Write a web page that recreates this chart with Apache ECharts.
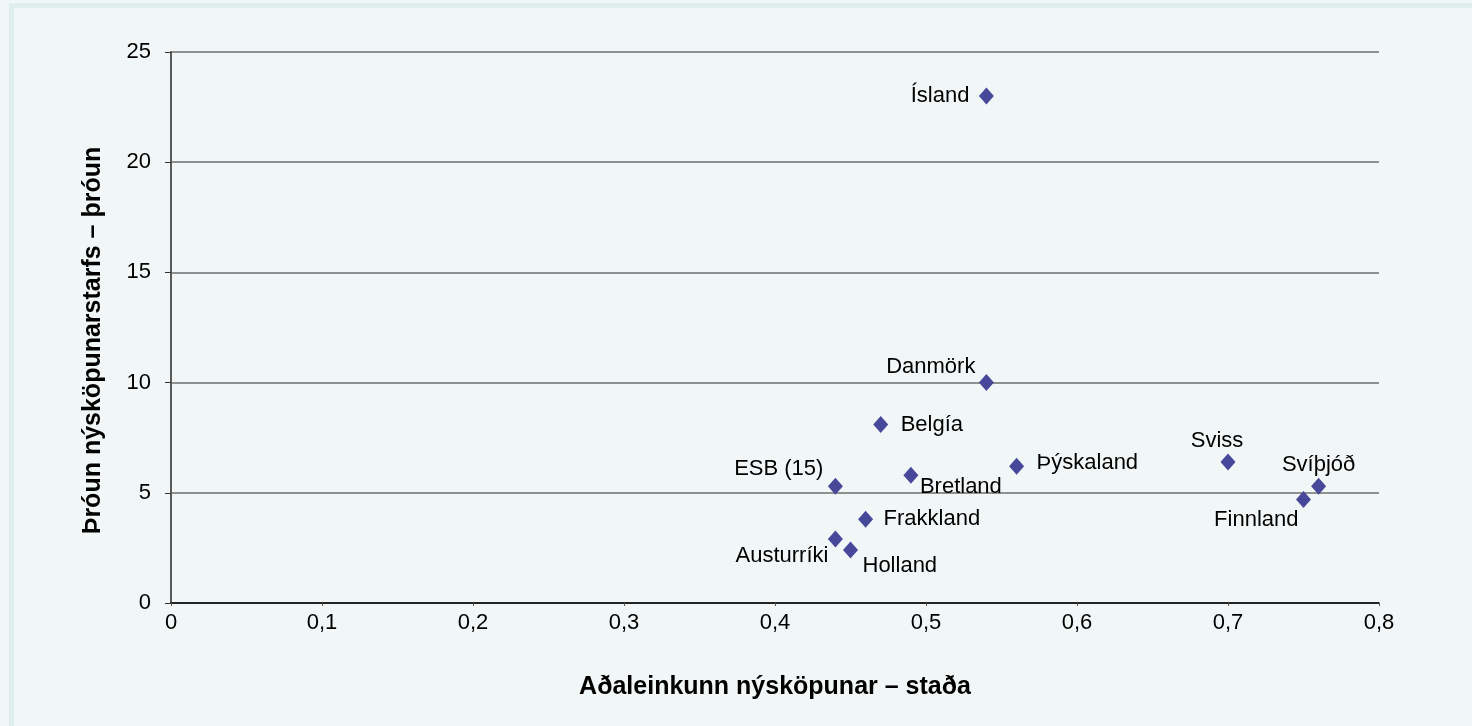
<!DOCTYPE html>
<html>
<head>
<meta charset="utf-8">
<script src="https://cdn.jsdelivr.net/npm/echarts@6/dist/echarts.min.js"></script>
<style>
    html, body { margin: 0; padding: 0; background: #f1f7f7; }
    #frame { position: absolute; left: 9px; top: 3px; width: 1463px; height: 723px;
             border-left: 5px solid #deeeec; border-top: 5px solid #deeeec; box-sizing: border-box; }
    #chart { position: absolute; left: 0; top: 0; width: 1472px; height: 726px; }
</style>
</head>
<body>
<div id="frame"></div>
<div id="chart"></div>
<script>
// lönd og gildi
const countries = ['Ísland', 'Danmörk', 'Belgía', 'ESB (15)', 'Bretland', 'Þýskaland', 'Sviss', 'Svíþjóð', 'Finnland', 'Frakkland', 'Austurríki', 'Holland']
const stada = [0.54, 0.54, 0.47, 0.44, 0.49, 0.56, 0.70, 0.76, 0.75, 0.46, 0.44, 0.45]
const throun = [23.0, 10.0, 8.1, 5.3, 5.8, 6.2, 6.4, 5.3, 4.7, 3.8, 2.9, 2.4]

// hvar merkið stendur miðað við punktinn
const labelPlace = [
    ['right', -17, 0], ['right', -11, -16], ['left', 20, 0], ['right', -12, -17],
    ['left', 9, 12], ['left', 20, -3], ['center', -11, -21], ['center', 0, -21],
    ['right', -5, 21], ['left', 18, 0], ['right', -7, 17], ['left', 12, 16]
]

const font = 'Liberation Sans, Arial, sans-serif'

const points = countries.map((c, i) => ({
    name: c,
    value: [stada[i], throun[i]],
    label: {
        show: true,
        position: 'inside',
        formatter: c,
        align: labelPlace[i][0],
        verticalAlign: 'middle',
        offset: [labelPlace[i][1], labelPlace[i][2]]
    }
}))

const chart = echarts.init(document.getElementById('chart'), null, { renderer: 'canvas' })
chart.setOption({
    backgroundColor: 'transparent',
    animation: false,
    grid: { left: 171, right: 93, top: 52, bottom: 123, show: true, borderWidth: 0 },
    xAxis: {
        type: 'value',
        min: 0, max: 0.8, interval: 0.1,
        name: 'Aðaleinkunn nýsköpunar – staða',
        nameLocation: 'middle',
        nameGap: 72,
        nameTextStyle: { fontFamily: font, fontWeight: 'bold', fontSize: 25, color: '#000' },
        axisLine: { show: true, onZero: false, lineStyle: { color: '#000', width: 1.5 } },
        axisTick: { show: true, length: 3, lineStyle: { color: '#555' } },
        axisLabel: { fontFamily: font, fontSize: 22, color: '#000', margin: 9,
            formatter: v => String(Math.round(v * 10) / 10).replace('.', ',') },
        splitLine: { show: false }
    },
    yAxis: {
        type: 'value',
        min: 0, max: 25, interval: 5,
        name: 'Þróun nýsköpunarstarfs – þróun',
        nameLocation: 'middle',
        nameGap: 65,
        nameRotate: 90,
        nameTextStyle: { fontFamily: font, fontWeight: 'bold', fontSize: 25, color: '#000', padding: [0, 26, 0, 0] },
        axisLine: { show: true, onZero: false, lineStyle: { color: '#5a5a5a', width: 2 } },
        axisTick: { show: true, length: 6, lineStyle: { color: '#333' } },
        axisLabel: { fontFamily: font, fontSize: 22, color: '#000', margin: 20 },
        splitLine: { show: true, lineStyle: { color: '#6e6e6e', width: 1.5 } }
    },
    series: [{
        type: 'scatter',
        symbol: 'diamond',
        symbolSize: [15, 17],
        itemStyle: { color: '#48489a', opacity: 1 },
        label: { fontFamily: font, fontSize: 22, color: '#000' },
        data: points,
        markLine: {
            silent: true,
            symbol: 'none',
            label: { show: false },
            lineStyle: { color: '#000', width: 1.5, type: 'solid' },
            data: [[{ coord: [0.8, -0.2] }, { coord: [0.8, 25] }]]
        }
    }]
})
</script>
</body>
</html>
